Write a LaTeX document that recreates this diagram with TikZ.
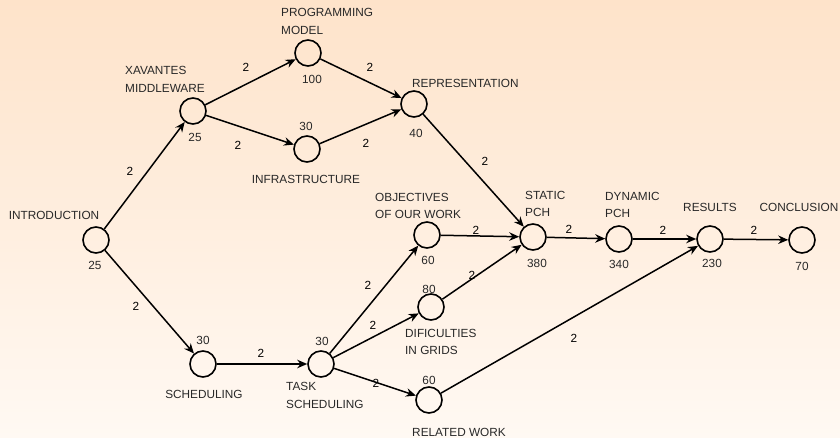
\documentclass[tikz,border=0pt]{standalone}
\usepackage{fontspec}
\setmainfont{Liberation Sans}
\usetikzlibrary{arrows.meta}
\definecolor{bgtop}{RGB}{254,227,202}
\definecolor{bgbot}{RGB}{255,249,243}
\definecolor{lbl}{RGB}{40,40,40}
\begin{document}
\begin{tikzpicture}[x=1bp,y=-1bp,
  circ/.style={circle,draw=black,line width=1.6bp,minimum size=26bp,inner sep=0pt},
  txt/.style={text=lbl,inner sep=0pt,font=\fontsize{11.8bp}{17.5bp}\selectfont},
  ltxt/.style={txt,align=left,anchor=west},
  elab/.style={text=black,inner sep=0pt,font=\fontsize{11.8bp}{14bp}\selectfont},
  edge/.style={line width=1.5bp,-{Stealth[length=10bp,width=8.5bp]}}]
\shade[top color=bgtop,bottom color=bgbot] (0,0) rectangle (840,438);
\useasboundingbox (0,0) rectangle (840,438);
% nodes
\node[circ] (intro) at (96,240) {};
\node[circ] (xav) at (193,111) {};
\node[circ] (prog) at (308,53) {};
\node[circ] (infra) at (307,149) {};
\node[circ] (rep) at (414,104) {};
\node[circ] (static) at (533,237) {};
\node[circ] (dyn) at (619,239) {};
\node[circ] (res) at (710,239) {};
\node[circ] (concl) at (802,240) {};
\node[circ] (sched) at (203,364) {};
\node[circ] (task) at (321,364) {};
\node[circ] (obj) at (427,235) {};
\node[circ] (dif) at (431,307) {};
\node[circ] (rel) at (429,400) {};
% labels
\node[txt] (lintro) at (54,215) {INTRODUCTION};
\node[txt] (nintro) at (95,265) {25};
\node[ltxt] (lxav) at (125,79.5) {XAVANTES\\MIDDLEWARE};
\node[txt] (nxav) at (195,137) {25};
\node[ltxt] (lprog) at (281,21.5) {PROGRAMMING\\MODEL};
\node[txt] (nprog) at (312,79) {100};
\node[txt] (ninfra) at (306,126) {30};
\node[txt] (linfra) at (306,179) {INFRASTRUCTURE};
\node[ltxt] (lrep) at (412,83) {REPRESENTATION};
\node[txt] (nrep) at (416,133) {40};
\node[ltxt] (lobj) at (375,206) {OBJECTIVES\\OF OUR WORK};
\node[txt] (nobj) at (428,260) {60};
\node[ltxt] (lstatic) at (525,204) {STATIC\\PCH};
\node[txt] (nstatic) at (537,263) {380};
\node[ltxt] (ldyn) at (605,205) {DYNAMIC\\PCH};
\node[txt] (ndyn) at (619,264) {340};
\node[txt] (lres) at (710,207) {RESULTS};
\node[txt] (nres) at (712,263) {230};
\node[txt] (lconcl) at (799,207) {CONCLUSION};
\node[txt] (nconcl) at (802,266) {70};
\node[txt] (nsched) at (203,340) {30};
\node[txt] (lsched) at (204,394) {SCHEDULING};
\node[txt] (ntask) at (322,341) {30};
\node[ltxt] (ltask) at (286,395.5) {TASK\\SCHEDULING};
\node[txt] (ndif) at (429,289) {80};
\node[ltxt] (ldif) at (405,342) {DIFICULTIES\\IN GRIDS};
\node[txt] (nrel) at (429,380) {60};
\node[txt] (lrel) at (459,432) {RELATED WORK};
% edges
\draw[edge] (intro) -- (xav);
\draw[edge] (intro) -- (sched);
\draw[edge] (xav) -- (prog);
\draw[edge] (xav) -- (infra);
\draw[edge] (prog) -- (rep);
\draw[edge] (infra) -- (rep);
\draw[edge] (rep) -- (static);
\draw[edge] (sched) -- (task);
\draw[edge] (task) -- (obj);
\draw[edge] (task) -- (dif);
\draw[edge] (task) -- (rel);
\draw[edge] (obj) -- (static);
\draw[edge] (dif) -- (static);
\draw[edge] (rel) -- (res);
\draw[edge] (static) -- (dyn);
\draw[edge] (dyn) -- (res);
\draw[edge] (res) -- (concl);
% edge labels
\node[elab] (e1) at (130,171) {2};
\node[elab] (e2) at (136,306) {2};
\node[elab] (e3) at (246,67) {2};
\node[elab] (e4) at (238,145) {2};
\node[elab] (e5) at (370,67) {2};
\node[elab] (e6) at (366,143) {2};
\node[elab] (e7) at (485,161) {2};
\node[elab] (e8) at (261,353) {2};
\node[elab] (e9) at (368,285) {2};
\node[elab] (e10) at (373,325) {2};
\node[elab] (e11) at (376,383) {2};
\node[elab] (e12) at (476,230) {2};
\node[elab] (e13) at (472,275) {2};
\node[elab] (e14) at (574,338) {2};
\node[elab] (e15) at (569,229) {2};
\node[elab] (e16) at (663,230) {2};
\node[elab] (e17) at (754,230) {2};
\end{tikzpicture}
\end{document}
